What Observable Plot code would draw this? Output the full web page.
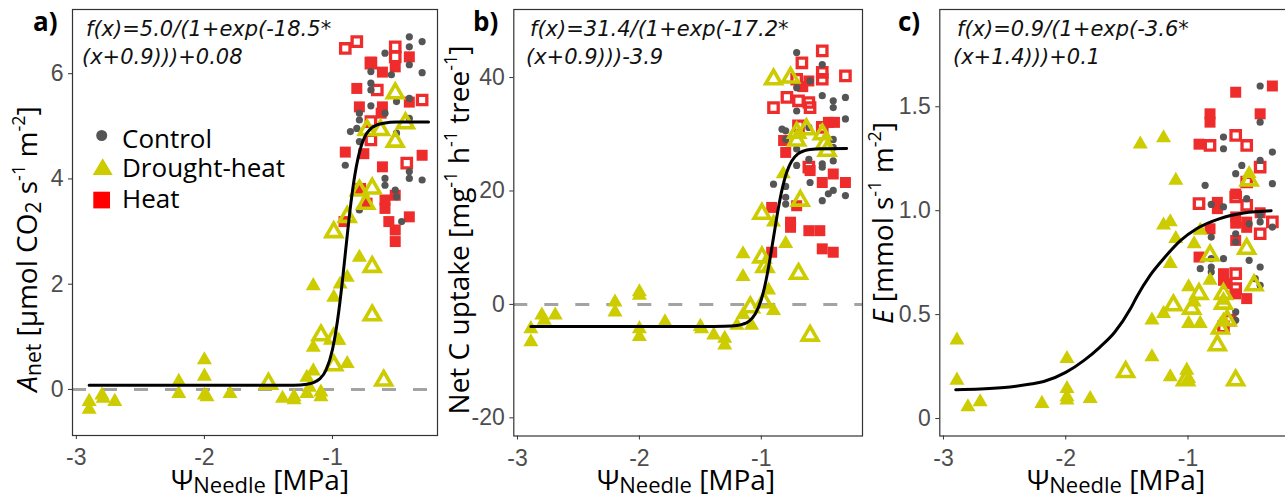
<!DOCTYPE html>
<html><head><meta charset="utf-8">
<script src="https://cdn.jsdelivr.net/npm/d3@7"></script>
<script src="https://cdn.jsdelivr.net/npm/@observablehq/plot@0.6"></script>
<style>
body{margin:0;background:#fff;}
#wrap{position:relative;width:1285px;height:498px;overflow:hidden;background:#fff;}
#wrap svg{position:absolute;top:0;max-width:none;}
text{white-space:pre;}
</style></head><body><div id="wrap"></div>
<script>
// ---------------- data ----------------
const xTicks = [-3, -2, -1];
const aTicks = [0, 2, 4, 6];
const bTicks = [-20, 0, 20, 40];
const cTicks = [0, 0.5, 1.0, 1.5];

// panel a: A_net
const aControl = [[-0.40,6.70],[-0.30,6.61],[-0.40,6.51],[-0.59,6.39],[-0.54,5.98],[-0.70,6.04],[-0.30,6.02],[-0.40,6.17],[-0.70,5.82],[-0.70,5.69],[-0.70,5.39],[-0.59,5.25],[-0.50,5.47],[-0.40,5.53],[-0.79,5.25],[-0.81,4.96],[-0.86,4.90],[-0.79,5.12],[-0.79,4.71],[-0.40,5.15],[-0.50,4.87],[-0.90,4.26],[-0.59,4.01],[-0.59,3.88],[-0.51,3.79],[-0.50,3.66],[-0.40,4.01],[-0.40,4.14],[-0.30,3.98],[-0.46,3.19],[-0.79,3.41]];
const aDHFilled = [[-2.90,-0.23],[-2.90,-0.38],[-2.80,-0.11],[-2.79,-0.17],[-2.70,-0.23],[-2.20,0.15],[-2.20,-0.08],[-2.00,0.56],[-2.00,0.25],[-2.00,-0.11],[-1.98,-0.14],[-1.80,-0.08],[-1.39,-0.17],[-1.30,-0.20],[-1.30,-0.14],[-1.20,0.23],[-1.15,0.35],[-1.18,0.04],[-1.20,-0.08],[-1.09,-0.05],[-1.09,-0.14],[-1.15,1.97],[-1.15,0.80],[-0.885,0.49],[-0.99,1.75],[-0.94,2.00],[-0.885,2.13],[-0.79,2.51],[-0.95,0.93]];
const aDHOpen = [[-1.50,0.11],[-1.09,1.03],[-0.99,0.97],[-0.99,0.46],[-0.99,2.99],[-0.885,3.28],[-0.69,2.33],[-0.69,1.41],[-0.60,0.17],[-0.79,3.78],[-0.74,3.53],[-0.69,3.82],[-0.73,4.93],[-0.625,4.93],[-0.51,4.71],[-0.51,5.63],[-0.43,5.06]];
const aHeatFilled = [[-0.81,5.72],[-0.79,5.37],[-0.70,6.22],[-0.61,6.03],[-0.51,6.13],[-0.40,6.32],[-0.61,5.37],[-0.40,5.46],[-0.90,4.51],[-0.755,4.48],[-0.61,4.23],[-0.30,4.45],[-0.78,3.82],[-0.73,3.54],[-0.59,3.60],[-0.59,3.44],[-0.51,3.69],[-0.56,3.19],[-0.51,3.03],[-0.51,2.81],[-0.40,3.28],[-0.91,3.19],[-0.62,5.25]];
const aHeatOpen = [[-0.90,6.48],[-0.81,6.61],[-0.70,6.20],[-0.51,6.51],[-0.51,6.32],[-0.65,5.69],[-0.30,5.50],[-0.70,5.09],[-0.70,4.74],[-0.42,4.30]];
const aCurve = [[-2.90,0.08],[-2.5,0.08],[-2.0,0.08],[-1.5,0.08],[-1.3,0.08],[-1.2,0.10],[-1.15,0.13],[-1.1,0.20],[-1.05,0.37],[-1.0,0.76],[-0.975,1.08],[-0.95,1.50],[-0.925,2.01],[-0.9,2.58],[-0.875,3.15],[-0.85,3.66],[-0.825,4.08],[-0.8,4.40],[-0.775,4.63],[-0.75,4.79],[-0.7,4.96],[-0.65,5.03],[-0.6,5.06],[-0.5,5.08],[-0.25,5.08]];

// panel b: net C uptake
const bControl = [[-0.71,44.4],[-0.50,42.3],[-0.71,38.2],[-0.60,39.4],[-0.50,36.8],[-0.41,35.9],[-0.31,36.5],[-0.41,34.7],[-0.71,34.1],[-0.31,32.7],[-0.80,30.6],[-0.61,31.2],[-0.80,29.1],[-0.71,27.4],[-0.61,25.6],[-0.71,24.5],[-0.50,24.8],[-0.50,24.2],[-0.41,25.3],[-0.41,27.7],[-0.41,29.1],[-0.90,21.2],[-0.80,20.8],[-0.80,18.9],[-0.80,17.7],[-0.60,21.5],[-0.50,18.3],[-0.45,19.5],[-0.41,20.1],[-0.31,19.2],[-0.83,30.9]];
const bDHFilled = [[-2.89,-4.3],[-2.89,-6.6],[-2.80,-1.9],[-2.78,-2.8],[-2.69,-1.9],[-2.20,0.4],[-2.20,-1.35],[-2.00,2.2],[-2.00,1.6],[-2.00,-4.3],[-2.00,-5.7],[-1.79,-3.1],[-1.50,-3.9],[-1.49,-4.3],[-1.39,-5.4],[-1.30,-6.0],[-1.30,-7.2],[-1.20,-3.7],[-1.15,-1.8],[-1.08,-3.7],[-1.15,8.9],[-1.15,4.9],[-0.95,6.3],[-0.94,2.5],[-0.90,-1.1],[-0.90,14.5],[-0.80,10.7],[-0.82,23.0]];
const bDHOpen = [[-0.90,39.7],[-0.76,40.0],[-0.995,16.0],[-0.995,8.3],[-1.09,-0.5],[-0.98,0.4],[-0.695,5.4],[-0.60,-5.5],[-0.68,18.3],[-0.71,30.3],[-0.63,30.9],[-0.50,30.0],[-0.48,28.3],[-0.46,27.1],[-0.71,28.9],[-0.97,6.6]];
const bHeatFilled = [[-0.61,39.4],[-0.817,28.9],[-0.80,26.8],[-0.60,23.6],[-0.50,21.5],[-0.41,23.0],[-0.31,21.5],[-0.45,32.1],[-0.40,32.1],[-0.915,17.1],[-0.71,17.4],[-0.76,14.5],[-0.76,13.6],[-0.61,13.0],[-0.52,13.0],[-0.50,9.8],[-0.41,9.2],[-0.915,9.2],[-0.66,38.4]];
const bHeatOpen = [[-0.50,44.7],[-0.667,42.6],[-0.71,39.7],[-0.50,40.9],[-0.50,39.7],[-0.31,40.3],[-0.90,34.7],[-0.79,36.5],[-0.695,35.9],[-0.61,35.6],[-0.60,34.7],[-0.695,31.5],[-0.50,31.2],[-0.61,24.2]];
const bCurve = [[-2.89,-3.9],[-2.5,-3.9],[-2.0,-3.9],[-1.5,-3.9],[-1.3,-3.87],[-1.2,-3.72],[-1.15,-3.48],[-1.1,-2.93],[-1.05,-1.69],[-1.0,0.87],[-0.975,2.88],[-0.95,5.44],[-0.925,8.48],[-0.9,11.8],[-0.875,15.12],[-0.85,18.16],[-0.825,20.72],[-0.8,22.73],[-0.775,24.22],[-0.75,25.29],[-0.7,26.53],[-0.65,27.08],[-0.6,27.32],[-0.5,27.45],[-0.3,27.5]];

// panel c: E
const cControl = [[-0.41,1.60],[-0.41,1.426],[-0.71,1.354],[-0.71,1.298],[-0.31,1.282],[-0.41,1.242],[-0.56,1.218],[-0.61,1.178],[-0.86,1.122],[-0.31,1.13],[-0.81,1.03],[-0.71,1.018],[-0.52,1.058],[-0.41,0.978],[-0.41,0.946],[-0.50,0.937],[-0.31,0.921],[-0.61,0.889],[-0.81,0.873],[-0.61,0.849],[-0.81,0.769],[-0.71,0.769],[-0.50,0.761],[-0.90,0.721],[-0.81,0.729],[-0.81,0.705],[-0.41,0.729],[-0.45,0.673],[-0.41,0.641],[-0.61,0.513],[-0.61,0.473]];
const cDHFilled = [[-2.89,0.377],[-2.89,0.184],[-2.80,0.056],[-2.70,0.08],[-2.195,0.072],[-1.99,0.288],[-1.99,0.144],[-1.99,0.104],[-1.99,0.088],[-1.80,0.096],[-1.39,1.32],[-1.20,1.35],[-1.10,1.146],[-1.20,0.93],[-1.145,0.946],[-1.10,0.865],[-1.145,0.745],[-1.295,0.473],[-1.20,0.505],[-1.295,0.296],[-1.145,0.20],[-1.01,0.232],[-0.995,0.192],[-0.95,0.84],[-0.90,0.905],[-0.995,0.633],[-0.82,0.665],[-0.995,0.457],[-0.90,0.457],[-0.95,0.56],[-0.71,0.569],[-0.71,0.473],[-0.50,1.178]];
const cDHOpen = [[-1.51,0.224],[-1.02,0.184],[-1.12,0.545],[-0.91,0.60],[-0.97,0.529],[-0.82,0.785],[-0.76,0.353],[-0.71,0.60],[-0.71,0.553],[-0.735,0.433],[-0.68,0.473],[-0.61,0.184],[-0.52,0.817],[-0.46,0.641],[-0.50,1.146]];
const cHeatFilled = [[-0.61,1.57],[-0.31,1.60],[-0.82,1.466],[-0.82,1.426],[-0.41,1.466],[-0.91,1.32],[-0.76,1.04],[-0.76,1.01],[-0.61,1.08],[-0.61,0.97],[-0.61,0.94],[-0.52,0.945],[-0.52,0.92],[-0.41,0.99],[-0.82,0.913],[-0.91,0.777],[-0.71,0.697],[-0.71,0.665],[-0.68,0.649],[-0.61,0.857],[-0.52,0.577],[-0.61,0.60]];
const cHeatOpen = [[-0.82,1.314],[-0.61,1.362],[-0.52,1.314],[-0.41,1.21],[-0.52,1.138],[-0.61,1.066],[-0.91,1.034],[-0.52,1.026],[-0.31,0.946],[-0.41,0.889],[-0.61,0.697],[-0.61,0.625],[-0.655,0.473],[-0.71,0.441]];
const cCurve = [[-2.9,0.139],[-2.7,0.142],[-2.455,0.152],[-2.3,0.165],[-2.18,0.178],[-2.0,0.222],[-1.85,0.28],[-1.72,0.344],[-1.6,0.415],[-1.47,0.529],[-1.42,0.585],[-1.31,0.689],[-1.2,0.769],[-1.06,0.857],[-0.93,0.913],[-0.74,0.962],[-0.545,0.989],[-0.32,1.0]];

const legendLabels = ["Control", "Drought-heat", "Heat"];
const formulas = {
  a: ["f(x)=5.0/(1+exp(-18.5*", "(x+0.9)))+0.08"],
  b: ["f(x)=31.4/(1+exp(-17.2*", "(x+0.9)))-3.9"],
  c: ["f(x)=0.9/(1+exp(-3.6*", "(x+1.4)))+0.1"]
};

// ---------------- styles ----------------
const GREY = "#555555", YEL = "#CCCC00", RED = "#EE2C2C";
const TXT = "Open Sans, Noto Sans, sans-serif";

function makePanel(cfg) {
  const X = d => d[0], Y = d => d[1];
  const svg = Plot.plot({
    width: cfg.width, height: 498,
    marginLeft: cfg.ml, marginRight: cfg.mr, marginTop: 9, marginBottom: cfg.mb,
    x: {domain: cfg.xd, label: null},
    y: {domain: cfg.yd, label: null},
    style: {fontFamily: "Liberation Sans, Arial, sans-serif", fontSize: "23px", background: "white", overflow: "visible"},
    marks: [
      cfg.zero ? Plot.ruleY([0], {stroke: "#a3a3a3", strokeWidth: 3, strokeDasharray: "14,17"}) : null,
      Plot.dot(cfg.heatFilled, {x: X, y: Y, symbol: "square", r: 6.2, fill: RED}),
      Plot.dot(cfg.heatOpen, {x: X, y: Y, symbol: "square", r: 5.3, fill: "none", stroke: RED, strokeWidth: 3.3}),
      Plot.dot(cfg.control, {x: X, y: Y, r: 3.6, fill: GREY}),
      Plot.dot(cfg.dhFilled, {x: X, y: Y, symbol: "triangle", r: 5.6, fill: YEL}),
      Plot.dot(cfg.dhOpen, {x: X, y: Y, symbol: "triangle", r: 5.8, fill: "none", stroke: YEL, strokeWidth: 3.6}),
      Plot.line(cfg.curve, {x: X, y: Y, stroke: "black", strokeWidth: 3, curve: "monotone-x"}),
      Plot.frame({stroke: "#333", strokeWidth: 1.2}),
      Plot.axisX({ticks: xTicks, tickFormat: d => String(d), tickSize: 4, tickPadding: 9.5, fontSize: 23, fill: "#4d4d4d", stroke: "#333", label: null}),
      Plot.axisY({ticks: cfg.yTicks, tickFormat: cfg.fmt || (d => String(d)), tickSize: 4, tickPadding: 5, fontSize: 23, fill: "#4d4d4d", stroke: "#333", label: null})
    ]
  });
  svg.style.left = cfg.left + "px";
  document.getElementById("wrap").appendChild(svg);
  const s = d3.select(svg);
  // panel letter
  s.append("text").attr("x", cfg.letterX).attr("y", 31).attr("text-anchor", "start").attr("font-family", TXT).attr("font-weight", "bold")
    .attr("font-size", 26).attr("fill", "#000").text(cfg.letter);
  // formula
  const f = formulas[cfg.key];
  s.append("text").attr("x", cfg.fx).attr("y", 36).attr("text-anchor", "start").attr("font-family", "DejaVu Sans").attr("font-style", "italic")
    .attr("font-size", 21).attr("fill", "#111").text(f[0]);
  s.append("text").attr("x", cfg.fx - 4).attr("y", 64).attr("text-anchor", "start").attr("font-family", "DejaVu Sans").attr("font-style", "italic")
    .attr("font-size", 21).attr("fill", "#111").text(f[1]);
  // x title
  const xt = s.append("text").attr("x", cfg.xtx).attr("y", 490).attr("text-anchor", "middle")
    .attr("font-family", TXT).attr("fill", "#000");
  rich(xt, [["Ψ", 28, 0], ["Needle", 22, 3], [" [MPa]", 28, 0]]);
  // y title
  const yt = s.append("text").attr("transform", `translate(${cfg.ytx},${cfg.yty}) rotate(-90)`)
    .attr("text-anchor", "middle").attr("font-family", TXT).attr("fill", "#000");
  rich(yt, cfg.yParts);
  return s;
}

function rich(sel, parts) {
  let cur = 0;
  for (const p of parts) {
    const [t, size, off, it] = p;
    const ts = sel.append("tspan").attr("font-size", size).text(t);
    if (it) ts.attr("font-style", "italic");
    if (off !== cur) { ts.attr("dy", off - cur); cur = off; }
  }
}

const SUP = -12, SUB = 4;
const sa = makePanel({key: "a", left: 0, width: 440, ml: 72, mr: 3, mb: 63,
  xd: [-3.03, -0.18], yd: [-0.875, 7.22], yTicks: aTicks, zero: true,
  control: aControl, dhFilled: aDHFilled, dhOpen: aDHOpen, heatFilled: aHeatFilled, heatOpen: aHeatOpen, curve: aCurve,
  letter: "a)", letterX: 33, fx: 86, xtx: 260, ytx: 37, yty: 249,
  yParts: [["A", 28, 0, true], ["net", 21, SUB], [" [µmol CO", 28, 0], ["2", 21, SUB], [" s", 28, 0], ["-1", 18, SUP], [" m", 28, 0], ["-2", 18, SUP], ["]", 28, 0]]});

const sb = makePanel({key: "b", left: 440, width: 430, ml: 73.3, mr: 8, mb: 62.5,
  xd: [-3.03, -0.17], yd: [-23.2, 52.0], yTicks: bTicks, zero: true,
  control: bControl, dhFilled: bDHFilled, dhOpen: bDHOpen, heatFilled: bHeatFilled, heatOpen: bHeatOpen, curve: bCurve,
  letter: "b)", letterX: 33, fx: 90, xtx: 246, ytx: 29, yty: 230,
  yParts: [["Net C uptake [mg", 28, 0], ["-1", 18, SUP], [" h", 28, 0], ["-1", 18, SUP], [" tree", 28, 0], ["-1", 18, SUP], ["]", 28, 0]]});

const sc = makePanel({key: "c", left: 870, width: 420, ml: 69.3, mr: 1, mb: 62.5,
  xd: [-3.03, -0.17], yd: [-0.084, 1.968], yTicks: cTicks, zero: false, fmt: d => d === 0 ? "0" : d.toFixed(1),
  control: cControl, dhFilled: cDHFilled, dhOpen: cDHOpen, heatFilled: cHeatFilled, heatOpen: cHeatOpen, curve: cCurve,
  letter: "c)", letterX: 28, fx: 87, xtx: 246, ytx: 23, yty: 223,
  yParts: [["E", 28, 0, true], [" [mmol s", 28, 0], ["-1", 18, SUP], [" m", 28, 0], ["-2", 18, SUP], ["]", 28, 0]]});

// legend in panel a
const lg = sa.append("g");
lg.append("circle").attr("cx", 101.7).attr("cy", 135.5).attr("r", 5.5).attr("fill", GREY);
lg.append("path").attr("d", "M102.7,158.3L112.7,175L92.7,175Z").attr("fill", YEL);
lg.append("rect").attr("x", 93.3).attr("y", 191.7).attr("width", 16.7).attr("height", 16.7).attr("fill", "#FF0000");
legendLabels.forEach((t, i) => {
  lg.append("text").attr("x", 122).attr("y", [148, 177, 208][i]).attr("text-anchor", "start").attr("font-family", TXT)
    .attr("font-size", 26).attr("fill", "#000").text(t);
});
</script></body></html>
